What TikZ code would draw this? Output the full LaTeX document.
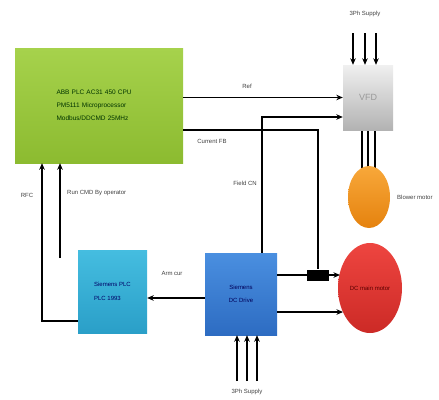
\documentclass[tikz,border=0pt]{standalone}
\usepackage{fontspec}
\setmainfont{Liberation Sans}
\usetikzlibrary{arrows.meta,shapes.geometric,backgrounds}
\definecolor{grtop}{HTML}{A6D24C}
\definecolor{grbot}{HTML}{8CBB30}
\definecolor{cytop}{HTML}{45BDE0}
\definecolor{cybot}{HTML}{2A9FC8}
\definecolor{bltop}{HTML}{4A8FE0}
\definecolor{blbot}{HTML}{2D6CC2}
\definecolor{ortop}{HTML}{F8A83A}
\definecolor{orbot}{HTML}{E5820E}
\definecolor{rdtop}{HTML}{EE4540}
\definecolor{rdbot}{HTML}{CC2A26}
\definecolor{lbl}{HTML}{404040}
\tikzset{
  box/.style={rectangle, draw=none, inner sep=1pt, align=left},
  lab/.style={font=\fontsize{6}{7}\selectfont, text=lbl, inner sep=1pt},
  arr/.style={line width=1.9pt, -{Stealth[length=6.5pt,width=5.5pt]}},
  thinarr/.style={line width=1.4pt, -{Stealth[length=6.5pt,width=5.5pt]}},
  ln/.style={line width=1.4pt},
}
\begin{document}
\begin{tikzpicture}[x=1pt,y=-1pt]
\useasboundingbox (0,0) rectangle (439,399);
% blocks
\node[box, minimum width=168pt, minimum height=115pt, top color=grtop, bottom color=grbot,
      text=green!20!black, font=\fontsize{6.5}{13}\selectfont, text width=85pt] (plcabb) at (99,105.5)
      {ABB PLC AC31 450 CPU\\PM5111 Microprocessor\\Modbus/DDCMD 25MHz};
\node[box, minimum width=50pt, minimum height=65pt, top color=gray!12, bottom color=gray!60,
      text=gray!80, font=\fontsize{9}{10}\selectfont, align=center] (vfd) at (368,97.5) {VFD};
\node[box, minimum width=69pt, minimum height=83pt, top color=cytop, bottom color=cybot,
      text=blue!40!black, font=\fontsize{6}{14}\selectfont, align=left] (siplc) at (112.5,291.5)
      {Siemens PLC\\PLC 1993};
\node[box, minimum width=72pt, minimum height=82pt, top color=bltop, bottom color=blbot,
      text=blue!35!black, font=\fontsize{6}{13}\selectfont, align=center] (dcd) at (241,294)
      {Siemens\\DC Drive};
\node[ellipse, minimum width=42pt, minimum height=62pt, inner sep=0pt, top color=ortop, bottom color=orbot] (blower) at (369,197) {};
\node[ellipse, minimum width=64pt, minimum height=90pt, inner sep=0pt, top color=rdtop, bottom color=rdbot,
      text=red!35!black, font=\fontsize{6}{7}\selectfont] (dcm) at (370,288) {DC main motor};
% coordinates
\coordinate (fc) at (262,117);
\coordinate (cf) at (318,130);
\coordinate (m1) at (340,275);
\coordinate (m2) at (343,312);
\coordinate (ac) at (200,298);
\coordinate (rfc) at (42,321);
\coordinate (run) at (60,258);
\coordinate (s1) at (353,33);
\coordinate (s2) at (365,33);
\coordinate (s3) at (376,33);
\coordinate (b1) at (237,381);
\coordinate (b2) at (247,381);
\coordinate (b3) at (257,381);
% connectors
\draw[arr] (plcabb.east |- vfd.west) -- (vfd.west);
\draw[thinarr] (dcd.north -| fc) -- (fc) -- (vfd.west |- fc);
\begin{scope}[on background layer]
\draw[ln] ([xshift=-6pt]vfd.south) -- ([xshift=-6pt,yshift=-4pt]vfd.south |- blower.north);
\draw[ln] (vfd.south) -- ([yshift=-4pt]vfd.south |- blower.north);
\draw[ln] ([xshift=7pt]vfd.south) -- ([xshift=7pt,yshift=-4pt]vfd.south |- blower.north);
\end{scope}
\draw[arr] (dcd.east |- m1) -- (m1);
\node[rectangle, fill=black, minimum width=22pt, minimum height=11pt, inner sep=0pt] (sensor) at (318,275) {};
\draw[ln] (plcabb.east |- cf) -- (cf) -- (sensor.north);
\draw[arr] (dcd.east |- m2) -- (m2);
\draw[arr] (dcd.west |- ac) -- (siplc.east |- ac);
\draw[arr] (siplc.west |- rfc) -- (rfc) -- (plcabb.south -| rfc);
\draw[arr] (run) -- (plcabb.south -| run);
\foreach \s in {s1,s2,s3} \draw[arr] (\s) -- (vfd.north -| \s);
\foreach \s in {b1,b2,b3} \draw[arr] (\s) -- (dcd.south -| \s);
% labels
\node[lab] (l3a) at (365,14) {3Ph Supply};
\node[lab] (l3b) at (247,392) {3Ph Supply};
\node[lab] (lref) at (247,86) {Ref};
\node[lab] (lcf) at (212,141) {Current FB};
\node[lab, anchor=east] (lfc) at (258,183) {Field CN};
\node[lab] (lac) at (172,273) {Arm cur};
\node[lab] (lrfc) at (27,195) {RFC};
\node[lab, anchor=west] (lrun) at (66,193) {Run CMD By operator};
\node[lab, anchor=west] (lbl) at (396,197) {Blower motor};
\end{tikzpicture}
\end{document}
